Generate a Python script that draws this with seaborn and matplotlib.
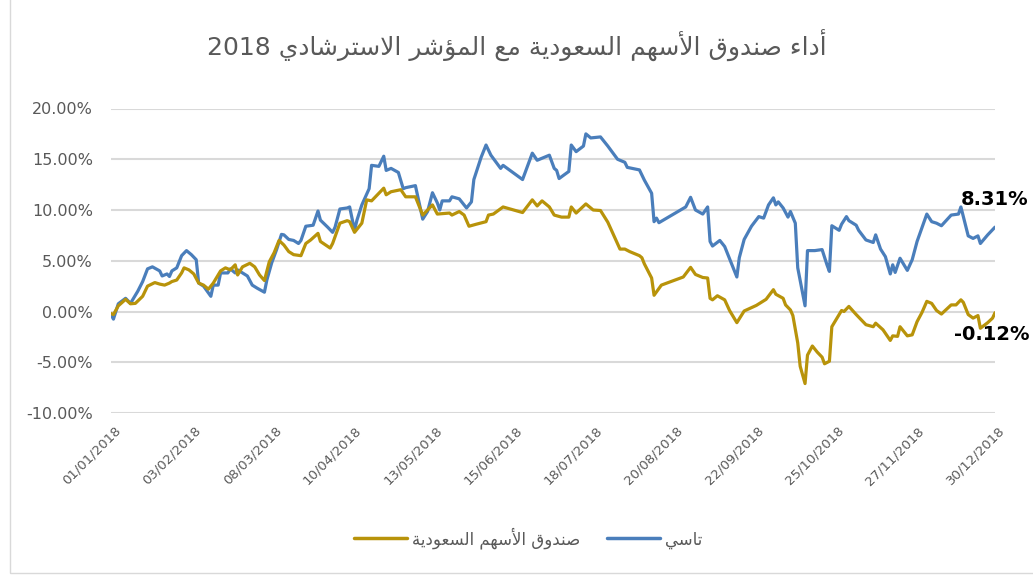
import numpy as np
import pandas as pd
import seaborn as sns
import matplotlib.pyplot as plt
import matplotlib.dates as mdates
from matplotlib.ticker import PercentFormatter
from matplotlib.patches import Rectangle
from matplotlib.lines import Line2D
from matplotlib.transforms import ScaledTranslation

TITLE = 'أداء صندوق الأسهم السعودية مع المؤشر الاسترشادي 2018'
FUND_NAME = 'صندوق الأسهم السعودية'
INDEX_NAME = 'تاسي'
START = '2018-01-01'
TICK_DATES = ['01/01/2018', '03/02/2018', '08/03/2018', '10/04/2018', '13/05/2018', '15/06/2018',
              '18/07/2018', '20/08/2018', '22/09/2018', '25/10/2018', '27/11/2018', '30/12/2018']
Y_TICKS = [-10, -5, 0, 5, 10, 15, 20]

# days since 01/01/2018, cumulative return in %
TASI_DAYS = [0, 1, 3, 6, 8, 11, 13, 15, 17, 20, 21, 23, 24, 25, 27, 29, 31, 33, 35, 36, 38, 41, 42, 44, 45,
             48, 49, 51, 52, 56, 58, 60, 63, 64, 66, 68, 70, 71, 73, 75, 77, 78, 80, 83, 85, 86, 89, 91, 92,
             94, 97, 98, 100, 101, 103, 106, 107, 110, 112, 113, 115, 118, 120, 121, 125, 128, 130, 132,
             134, 135, 136, 139, 140, 143, 146, 148, 149, 152, 154, 156, 160, 161, 169, 173, 175, 180, 182,
             183, 184, 188, 189, 191, 194, 195, 197, 201, 204, 208, 211, 212, 217, 219, 222, 223, 224, 225,
             236, 238, 240, 243, 245, 246, 247, 250, 252, 257, 258, 260, 263, 266, 268, 270, 272, 273, 274,
             276, 278, 279, 281, 282, 285, 286, 289, 292, 294, 295, 296, 299, 300, 302, 303, 306, 307, 310,
             313, 314, 316, 318, 320, 321, 322, 324, 327, 329, 331, 335, 337, 339, 341, 345, 348, 349, 350,
             352, 354, 356, 357, 360, 363]
TASI_VALS = [-0.3, -0.75, 0.76, 1.3, 0.8, 2.0, 2.95, 4.2, 4.4, 4.0, 3.5, 3.7, 3.45, 4.0, 4.3, 5.5, 6.0, 5.6,
             5.1, 2.8, 2.5, 1.5, 2.6, 2.6, 3.8, 3.8, 4.2, 3.8, 4.1, 3.5, 2.6, 2.3, 1.9, 3.1, 4.8, 6.1, 7.6,
             7.55, 7.1, 7.0, 6.7, 7.0, 8.4, 8.5, 9.9, 9.0, 8.3, 7.8, 8.3, 10.1, 10.2, 10.3, 8.0, 9.0, 10.5,
             12.1, 14.4, 14.3, 15.3, 13.9, 14.1, 13.7, 12.1, 12.2, 12.4, 9.1, 9.85, 11.7, 10.7, 10.0, 10.9,
             10.9, 11.3, 11.1, 10.2, 10.8, 13.0, 15.2, 16.4, 15.4, 14.1, 14.4, 13.0, 15.6, 14.9, 15.4, 14.1,
             13.9, 13.1, 13.8, 16.4, 15.75, 16.3, 17.5, 17.1, 17.2, 16.3, 15.0, 14.7, 14.2, 13.95, 12.95,
             11.65, 8.85, 9.2, 8.75, 10.3, 11.25, 10.0, 9.6, 10.3, 6.9, 6.45, 7.0, 6.4, 3.4, 5.3, 7.1, 8.4,
             9.35, 9.2, 10.5, 11.2, 10.5, 10.8, 10.2, 9.3, 9.85, 8.7, 4.3, 0.56, 6.0, 6.0, 6.1, 4.6, 3.95,
             8.45, 8.0, 8.6, 9.35, 8.95, 8.5, 8.0, 7.05, 6.8, 7.55, 6.15, 5.4, 3.7, 4.6, 3.85, 5.25, 4.05,
             5.1, 6.9, 9.6, 8.85, 8.7, 8.45, 9.5, 9.6, 10.3, 9.35, 7.45, 7.2, 7.45, 6.7, 7.55, 8.31]

FUND_DAYS = [0, 1, 3, 6, 8, 10, 13, 15, 18, 20, 22, 24, 25, 27, 29, 30, 32, 34, 36, 38, 40, 42, 45, 47, 49,
             51, 52, 54, 57, 59, 61, 63, 65, 67, 69, 71, 73, 75, 78, 80, 82, 85, 86, 90, 91, 94, 97, 98, 100,
             103, 105, 107, 109, 112, 113, 115, 119, 121, 125, 128, 132, 134, 139, 140, 143, 145, 147, 150,
             154, 155, 157, 161, 169, 173, 175, 177, 180, 182, 185, 188, 189, 191, 195, 198, 201, 204, 209,
             211, 213, 217, 218, 219, 222, 223, 226, 235, 238, 240, 243, 245, 246, 247, 249, 252, 254, 257,
             260, 265, 269, 272, 273, 276, 277, 279, 280, 282, 283, 285, 286, 288, 290, 292, 293, 295, 296,
             300, 301, 303, 306, 310, 313, 314, 317, 320, 321, 323, 324, 327, 329, 331, 333, 335, 337, 339,
             341, 345, 347, 349, 350, 352, 354, 356, 357, 360, 362, 363]
FUND_VALS = [-0.2, -0.3, 0.56, 1.2, 0.76, 0.8, 1.5, 2.5, 2.85, 2.7, 2.6, 2.8, 2.95, 3.1, 3.8, 4.3, 4.1, 3.7,
             2.8, 2.6, 2.2, 2.8, 4.0, 4.3, 4.1, 4.6, 3.6, 4.4, 4.75, 4.4, 3.6, 3.05, 4.9, 5.8, 7.0, 6.55, 5.9,
             5.6, 5.5, 6.7, 7.05, 7.7, 6.9, 6.25, 6.7, 8.7, 8.95, 8.85, 7.8, 8.7, 11.0, 10.9, 11.4, 12.15,
             11.5, 11.8, 12.0, 11.3, 11.3, 9.5, 10.5, 9.6, 9.7, 9.5, 9.85, 9.5, 8.4, 8.6, 8.85, 9.5, 9.6,
             10.3, 9.75, 11.0, 10.4, 10.9, 10.3, 9.5, 9.3, 9.3, 10.3, 9.7, 10.6, 10.0, 9.95, 8.8, 6.15, 6.15,
             5.9, 5.5, 5.3, 4.7, 3.3, 1.6, 2.6, 3.4, 4.35, 3.65, 3.35, 3.3, 1.3, 1.15, 1.55, 1.15, 0.1, -1.1,
             0.05, 0.6, 1.2, 2.15, 1.7, 1.3, 0.65, 0.15, -0.4, -3.1, -5.4, -7.1, -4.3, -3.4, -4.0, -4.5,
             -5.15, -4.9, -1.5, 0.1, 0.0, 0.5, -0.3, -1.3, -1.5, -1.15, -1.8, -2.85, -2.4, -2.45, -1.5, -2.4,
             -2.3, -1.0, -0.1, 1.0, 0.8, 0.1, -0.25, 0.65, 0.65, 1.15, 0.9, -0.3, -0.65, -0.4, -1.65, -1.1,
             -0.65, -0.12]

BLUE = '#4A7EBB'
GOLD = '#B8930A'
GREY = '#595959'

# --- minimal Arabic shaping (matplotlib has no bidi / joining support) ---
RIGHT_JOIN = {'ا': 0xFE8D, 'أ': 0xFE83, 'إ': 0xFE87, 'آ': 0xFE81, 'ؤ': 0xFE85, 'ة': 0xFE93,
              'د': 0xFEA9, 'ذ': 0xFEAB, 'ر': 0xFEAD, 'ز': 0xFEAF, 'و': 0xFEED, 'ى': 0xFEEF}
DUAL_JOIN = {'ئ': 0xFE89, 'ب': 0xFE8F, 'ت': 0xFE95, 'ث': 0xFE99, 'ج': 0xFE9D, 'ح': 0xFEA1,
             'خ': 0xFEA5, 'س': 0xFEB1, 'ش': 0xFEB5, 'ص': 0xFEB9, 'ض': 0xFEBD, 'ط': 0xFEC1,
             'ظ': 0xFEC5, 'ع': 0xFEC9, 'غ': 0xFECD, 'ف': 0xFED1, 'ق': 0xFED5, 'ك': 0xFED9,
             'ل': 0xFEDD, 'م': 0xFEE1, 'ن': 0xFEE5, 'ه': 0xFEE9, 'ي': 0xFEF1}
LAM_ALEF = {'آ': 0xFEF5, 'أ': 0xFEF7, 'إ': 0xFEF9, 'ا': 0xFEFB}


def shapeWord(word):
    units = []
    i = 0
    while i < len(word):
        c = word[i]
        if c == 'ل' and i + 1 < len(word) and word[i + 1] in LAM_ALEF:
            units.append(('R', LAM_ALEF[word[i + 1]]))
            i += 2
            continue
        if c in DUAL_JOIN:
            units.append(('D', DUAL_JOIN[c]))
        elif c in RIGHT_JOIN:
            units.append(('R', RIGHT_JOIN[c]))
        elif c == 'ء':
            units.append(('N', 0xFE80))
        else:
            units.append(('N', ord(c)))
        i += 1
    out = ''
    for k, (kind, base) in enumerate(units):
        prevJoins = k > 0 and units[k - 1][0] == 'D'
        nextJoins = kind == 'D' and k + 1 < len(units) and units[k + 1][0] in 'DR'
        if kind == 'N':
            out += chr(base)
        elif kind == 'R':
            out += chr(base + 1 if prevJoins else base)
        else:
            off = 3 if prevJoins and nextJoins else 1 if prevJoins else 2 if nextJoins else 0
            out += chr(base + off)
    return out


def ar(text):
    words = []
    for w in text.split(' '):
        if any('\u0600' <= c <= '\u06ff' for c in w):
            words.append(shapeWord(w)[::-1])
        else:
            words.append(w)
    return ' '.join(words[::-1])


sns.set_style('white')
plt.rcParams['font.family'] = ['DejaVu Sans']
plt.rcParams['axes.unicode_minus'] = False

start = pd.Timestamp(START)
tasi = pd.DataFrame({'date': start + pd.to_timedelta(TASI_DAYS, unit='D'), 'value': TASI_VALS})
fund = pd.DataFrame({'date': start + pd.to_timedelta(FUND_DAYS, unit='D'), 'value': FUND_VALS})
ticks = pd.to_datetime(TICK_DATES, dayfirst=True)

fig = plt.figure(figsize=(10.33, 5.75), dpi=100)
ax = fig.add_axes([111 / 1033, 162 / 575, 884 / 1033, 304.5 / 575])

sns.lineplot(data=tasi, x='date', y='value', ax=ax, color=BLUE, linewidth=2.3, estimator=None)
sns.lineplot(data=fund, x='date', y='value', ax=ax, color=GOLD, linewidth=2.3, estimator=None)

ax.set_xlim(ticks[0], ticks[-1])
ax.set_ylim(-10, 20)
ax.set_yticks(Y_TICKS)
ax.yaxis.set_major_formatter(PercentFormatter(decimals=2))
ax.set_xticks(ticks)
ax.xaxis.set_major_formatter(mdates.DateFormatter('%d/%m/%Y'))
ax.grid(axis='y', color='#D9D9D9', linewidth=1.5)
ax.grid(axis='x', visible=False)
ax.set_axisbelow(True)
for s in ax.spines.values():
    s.set_visible(False)
ax.set_xlabel('')
ax.set_ylabel('')
ax.tick_params(axis='y', length=0, pad=13, labelsize=11.5, labelcolor=GREY)
ax.tick_params(axis='x', length=0, pad=8, labelsize=9.5, labelcolor=GREY)
shift = ScaledTranslation(2 / 72, 0, fig.dpi_scale_trans)
for lbl in ax.get_xticklabels():
    lbl.set_rotation(45)
    lbl.set_ha('right')
    lbl.set_rotation_mode('anchor')
    lbl.set_transform(lbl.get_transform() + shift)

# end-of-year labels
ax.annotate(f'{TASI_VALS[-1]:.2f}%', xy=(tasi['date'].iloc[-1], TASI_VALS[-1]), xytext=(0, 20),
            textcoords='offset points', ha='center', va='center', fontsize=14, fontweight='bold',
            color='black', annotation_clip=False)
ax.annotate(f'{FUND_VALS[-1]:.2f}%', xy=(fund['date'].iloc[-1], FUND_VALS[-1]), xytext=(-2, -16),
            textcoords='offset points', ha='center', va='center', fontsize=14, fontweight='bold',
            color='black', annotation_clip=False)

fig.text(0.5, 1 - 45 / 575, ar(TITLE), ha='center', va='center', fontsize=18, color=GREY)

handles = [Line2D([], [], color=GOLD, linewidth=2.5), Line2D([], [], color=BLUE, linewidth=2.5)]
fig.legend(handles, [ar(FUND_NAME), ar(INDEX_NAME)], loc='center', bbox_to_anchor=(528 / 1033, 1 - 538 / 575),
           ncol=2, frameon=False, fontsize=12, labelcolor=GREY, handlelength=3.2, columnspacing=1.6,
           handletextpad=0.3)

fig.patches.append(Rectangle((10 / 1033, 2 / 575), 2, 2, transform=fig.transFigure, fill=False,
                             edgecolor='#D9D9D9', linewidth=1))

fig.savefig('out.png', dpi=100)
